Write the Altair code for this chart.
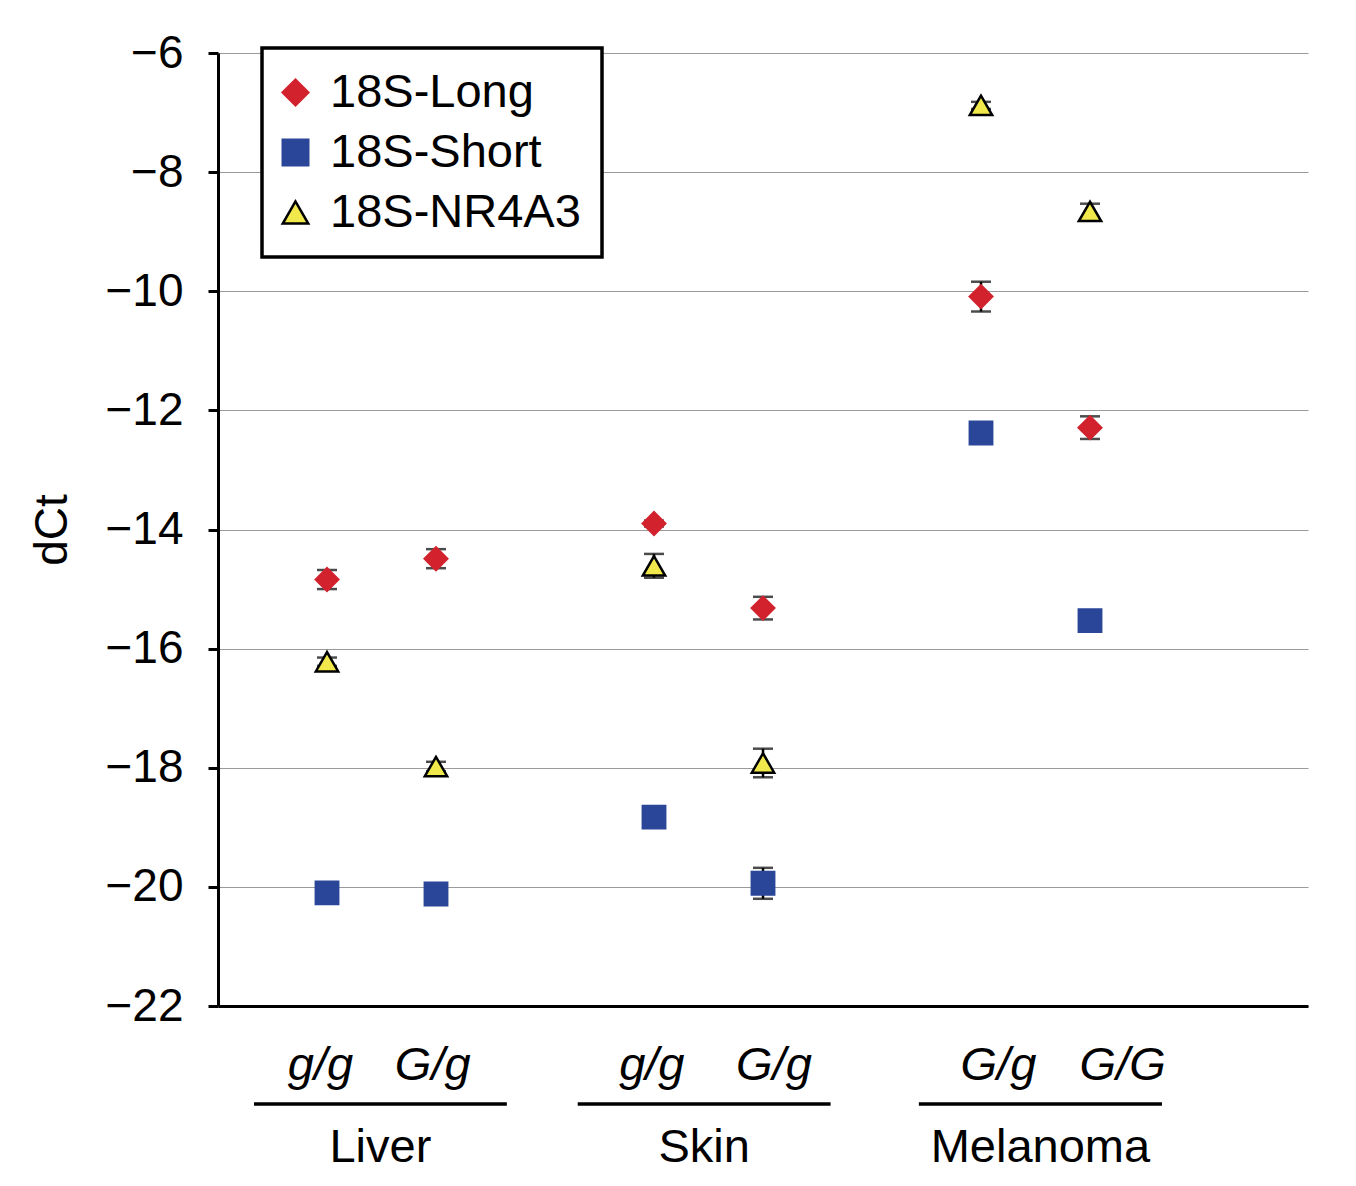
import altair as alt
import pandas as pd

# ---------------- data ----------------
samples = ["Liver g/g", "Liver G/g", "Skin g/g", "Skin G/g", "Melanoma G/g", "Melanoma G/G"]
x_pos = [1, 2, 4, 5, 7, 8]
series = ["18S-Long", "18S-Short", "18S-NR4A3"]

long_vals = [-14.84, -14.49, -13.90, -15.32, -10.09, -12.29]
long_err = [0.16, 0.16, 0.05, 0.19, 0.25, 0.19]
short_vals = [-20.10, -20.12, -18.83, -19.94, -12.38, -15.53]
short_err = [0.04, 0.04, 0.04, 0.26, 0.04, 0.04]
nr4a3_vals = [-16.22, -17.98, -14.61, -17.92, -6.88, -8.66]
nr4a3_err = [0.07, 0.08, 0.20, 0.24, 0.06, 0.13]

genotypes = ["g/g", "G/g", "g/g", "G/g", "G/g", "G/G"]
genotype_x = [0.94, 1.97, 3.98, 5.10, 7.16, 8.30]
tissues = ["Liver", "Skin", "Melanoma"]
tissue_start = [0.33, 3.30, 6.43]
tissue_end = [2.65, 5.62, 8.66]

y_ticks = [-22, -20, -18, -16, -14, -12, -10, -8, -6]

# ---------------- tables ----------------
rows = []
for name, vals, errs in [("18S-Long", long_vals, long_err),
                         ("18S-Short", short_vals, short_err),
                         ("18S-NR4A3", nr4a3_vals, nr4a3_err)]:
    for s, x, v, e in zip(samples, x_pos, vals, errs):
        rows.append(dict(series=name, sample=s, x=x, dct=v, lo=v - e, hi=v + e))
df = pd.DataFrame(rows)
geno_df = pd.DataFrame(dict(label=genotypes, x=genotype_x))
tis_df = pd.DataFrame(dict(label=tissues, start=tissue_start, end=tissue_end,
                           mid=[(a + b) / 2 for a, b in zip(tissue_start, tissue_end)]))

FONT = "Liberation Sans"
RED = "#d2222d"
BLUE = "#2a4699"
YELLOW = "#f1e94c"
W, H = 1090, 953

xs = alt.Scale(domain=[0, 10], nice=False, zero=False)
ys = alt.Scale(domain=[-22, -6], nice=False, zero=False)

x_axis = alt.Axis(labels=False, ticks=False, grid=False, title=None,
                  domainColor="black", domainWidth=3)
y_axis = alt.Axis(values=y_ticks, title="dCt", grid=True,
                  gridColor="#9a9a9a", gridWidth=1.2,
                  tickSize=10, tickWidth=3, tickColor="black",
                  domainColor="black", domainWidth=3,
                  labelPadding=25, titlePadding=28)

fill_scale = alt.Scale(domain=series, range=[RED, BLUE, YELLOW])
shape_scale = alt.Scale(domain=series, range=["diamond", "square", "triangle-up"])
stroke_scale = alt.Scale(domain=series, range=[RED, BLUE, "black"])

base = alt.Chart(df)

err_rule = base.mark_rule(color="black", strokeWidth=2.5).encode(
    x=alt.X("x:Q", scale=xs, axis=x_axis),
    y=alt.Y("lo:Q", scale=ys, axis=y_axis),
    y2="hi:Q",
)
cap_lo = base.mark_tick(orient="horizontal", color="black", size=20, thickness=2.5).encode(
    x=alt.X("x:Q", scale=xs, axis=x_axis),
    y=alt.Y("lo:Q", scale=ys, axis=y_axis),
)
cap_hi = base.mark_tick(orient="horizontal", color="black", size=20, thickness=2.5).encode(
    x=alt.X("x:Q", scale=xs, axis=x_axis),
    y=alt.Y("hi:Q", scale=ys, axis=y_axis),
)

points = base.mark_point(filled=True, size=500, strokeWidth=2.5, opacity=1).encode(
    x=alt.X("x:Q", scale=xs, axis=x_axis),
    y=alt.Y("dct:Q", scale=ys, axis=y_axis),
    fill=alt.Fill("series:N", scale=fill_scale, legend=alt.Legend(title=None)),
    shape=alt.Shape("series:N", scale=shape_scale, legend=alt.Legend(title=None)),
    stroke=alt.Stroke("series:N", scale=stroke_scale, legend=alt.Legend(title=None)),
)

geno_text = alt.Chart(geno_df).mark_text(
    font=FONT, fontSize=47, fontStyle="italic", baseline="alphabetic", align="center", color="black"
).encode(
    x=alt.X("x:Q", scale=xs, axis=x_axis),
    y=alt.value(H + 74),
    text="label:N",
)
tis_rule = alt.Chart(tis_df).mark_rule(color="black", strokeWidth=3.5).encode(
    x=alt.X("start:Q", scale=xs, axis=x_axis),
    x2="end:Q",
    y=alt.value(H + 98),
)
tis_text = alt.Chart(tis_df).mark_text(
    font=FONT, fontSize=47, baseline="alphabetic", align="center", color="black"
).encode(
    x=alt.X("mid:Q", scale=xs, axis=x_axis),
    y=alt.value(H + 156),
    text="label:N",
)

chart = alt.layer(err_rule, cap_lo, cap_hi, points, geno_text, tis_rule, tis_text).properties(
    width=W, height=H,
    padding={"left": 21, "top": 22, "right": 5, "bottom": 5},
).configure_view(
    stroke=None
).configure_axis(
    labelFont=FONT, labelFontSize=46, labelColor="black",
    titleFont=FONT, titleFontSize=46, titleFontWeight="normal", titleColor="black",
).configure_legend(
    orient="none", legendX=44, legendY=-5,
    strokeColor="black", strokeWidth=3.5, fillColor="white",
    padding=21, rowPadding=12, labelLimit=0,
    labelFont=FONT, labelFontSize=47, labelColor="black", labelOffset=11,
    symbolOffset=-11,
    symbolSize=650, symbolStrokeWidth=2.5, symbolOpacity=1,
)

chart.save("out.html", embed_options={"renderer": "svg", "actions": False})
